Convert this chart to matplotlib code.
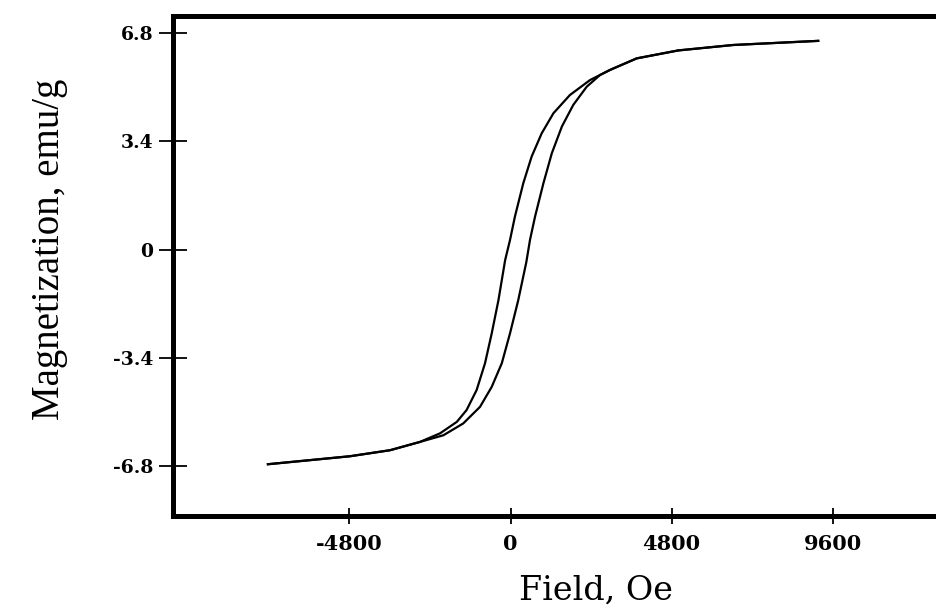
import matplotlib.pyplot as plt

# hysteresis loop (field in Oe, magnetization in emu/g)
# descending branch, from high field down
field_down = [9170, 6630, 5000, 3760, 2970, 2370, 1770, 1280, 930, 630, 380,
              130, -15, -160, -360, -560, -760, -1010, -1310, -1600, -2100,
              -2700, -3590, -4790, -7230]
mag_down = [6.55, 6.42, 6.25, 6.00, 5.64, 5.32, 4.85, 4.28, 3.65, 2.92, 2.08,
            1.03, 0.30, -0.33, -1.59, -2.63, -3.57, -4.41, -5.04, -5.41, -5.77,
            -6.04, -6.30, -6.49, -6.74]

# ascending branch, from low field up
field_up = [-7230, -4790, -3590, -2700, -2000, -1410, -910, -560, -260, -15,
            230, 470, 580, 730, 980, 1230, 1530, 1870, 2270, 2670, 2970, 3760,
            5000, 6630, 9170]
mag_up = [-6.74, -6.49, -6.30, -6.04, -5.83, -5.46, -4.94, -4.31, -3.57, -2.63,
          -1.59, -0.40, 0.30, 1.03, 2.08, 3.02, 3.86, 4.54, 5.11, 5.48, 5.64,
          6.00, 6.25, 6.42, 6.55]

x_ticks = [-4800, 0, 4800, 9600]
y_ticks = [-6.8, -3.4, 0, 3.4, 6.8]
y_tick_labels = ["-6.8", "-3.4", "0", "3.4", "6.8"]

fig = plt.figure(figsize=(9.37, 6.09), dpi=100)
ax = fig.add_axes([0.1846, 0.1535, 0.8154, 0.8202])

ax.plot(field_down, mag_down, color='black', lw=1.6, solid_joinstyle='round')
ax.plot(field_up, mag_up, color='black', lw=1.6, solid_joinstyle='round')

ax.set_xlim(-10060, 12710)
ax.set_ylim(-8.35, 7.33)

for side in ['left', 'bottom', 'top']:
    ax.spines[side].set_linewidth(3.6)
ax.spines['right'].set_visible(False)

ax.set_xticks(x_ticks)
ax.set_xticklabels([str(v) for v in x_ticks], family='DejaVu Serif',
                   fontweight='bold', fontsize=15)
ax.set_yticks(y_ticks)
ax.set_yticklabels(y_tick_labels, family='DejaVu Serif',
                   fontweight='bold', fontsize=13.5)
ax.tick_params(axis='x', direction='inout', length=12, width=1.3, pad=7)
ax.tick_params(axis='y', direction='inout', length=20, width=1.3, pad=4)

fig.text(0.053, 0.591, "Magnetization, emu/g", rotation=90, ha='center',
         va='center', family='Liberation Serif', fontsize=28)
fig.text(0.636, 0.004, "Field, Oe", ha='center', va='bottom',
         family='DejaVu Serif', fontsize=24)

plt.savefig("out.png", dpi=100)
plt.close()
